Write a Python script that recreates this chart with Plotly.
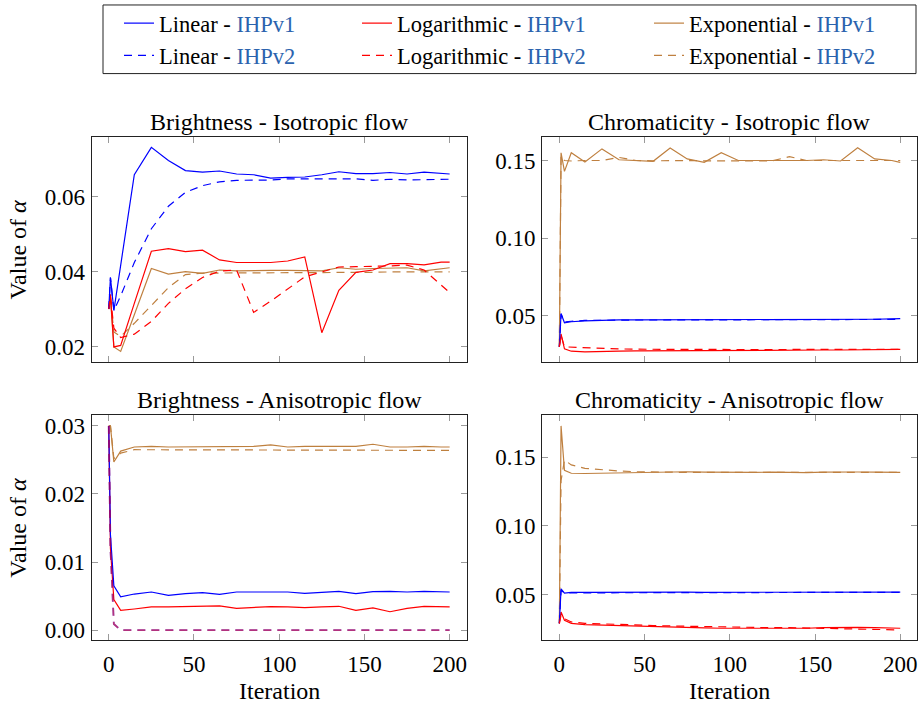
import plotly.graph_objects as go

# ---------------- data ----------------
ITER = [0, 1, 3, 7, 15, 25, 35, 45, 55, 65, 75, 85, 95, 105, 115, 125, 135, 145, 155, 165, 175, 185, 195, 200]

# Brightness - Isotropic flow
bi_lin_v1 = [0.0301, 0.0385, 0.0297, 0.0418, 0.0659, 0.0732, 0.0697, 0.0670, 0.0666, 0.0669, 0.0661, 0.0659, 0.0650, 0.0652, 0.0653, 0.0659, 0.0667, 0.0662, 0.0662, 0.0665, 0.0661, 0.0666, 0.0662, 0.0661]
bi_lin_v2 = [0.0301, 0.0385, 0.0297, 0.0336, 0.0425, 0.0515, 0.0575, 0.0612, 0.0630, 0.0640, 0.0644, 0.0645, 0.0645, 0.0648, 0.0648, 0.0648, 0.0648, 0.0648, 0.0644, 0.0647, 0.0645, 0.0646, 0.0647, 0.0647]
bi_log_v1 = [0.0301, 0.0340, 0.0200, 0.0204, 0.0316, 0.0455, 0.0462, 0.0454, 0.0458, 0.0432, 0.0425, 0.0425, 0.0425, 0.0429, 0.0440, 0.0238, 0.0351, 0.0399, 0.0405, 0.0422, 0.0422, 0.0419, 0.0426, 0.0426]
bi_log_v2 = [0.0301, 0.0336, 0.0250, 0.0225, 0.0234, 0.0268, 0.0316, 0.0355, 0.0385, 0.0402, 0.0405, 0.0292, 0.0322, 0.0355, 0.0387, 0.0400, 0.0413, 0.0414, 0.0414, 0.0416, 0.0418, 0.0405, 0.0365, 0.0345]
bi_exp_v1 = [0.0301, 0.0330, 0.0200, 0.0188, 0.0286, 0.0409, 0.0394, 0.0401, 0.0396, 0.0405, 0.0403, 0.0404, 0.0404, 0.0404, 0.0404, 0.0403, 0.0411, 0.0407, 0.0409, 0.0409, 0.0411, 0.0403, 0.0409, 0.0411]
bi_exp_v2 = [0.0301, 0.0330, 0.0240, 0.0228, 0.0263, 0.0310, 0.0358, 0.0393, 0.0397, 0.0397, 0.0397, 0.0398, 0.0398, 0.0399, 0.0399, 0.0399, 0.0399, 0.0399, 0.0399, 0.0400, 0.0400, 0.0400, 0.0400, 0.0400]

# Chromaticity - Isotropic flow
ci_lin_v1 = [0.0300, 0.0515, 0.0455, 0.0462, 0.0468, 0.0472, 0.0474, 0.0474, 0.0474, 0.0474, 0.0474, 0.0474, 0.0474, 0.0474, 0.0474, 0.0474, 0.0474, 0.0475, 0.0475, 0.0476, 0.0477, 0.0478, 0.0480, 0.0482]
ci_lin_v2 = [0.0300, 0.0510, 0.0460, 0.0465, 0.0470, 0.0472, 0.0473, 0.0473, 0.0473, 0.0473, 0.0473, 0.0473, 0.0473, 0.0473, 0.0473, 0.0473, 0.0473, 0.0473, 0.0473, 0.0474, 0.0474, 0.0475, 0.0476, 0.0477]
ci_log_v1 = [0.0300, 0.0383, 0.0287, 0.0272, 0.0268, 0.0268, 0.0272, 0.0274, 0.0275, 0.0272, 0.0274, 0.0276, 0.0277, 0.0278, 0.0278, 0.0278, 0.0279, 0.0279, 0.0280, 0.0280, 0.0280, 0.0281, 0.0282, 0.0284]
ci_log_v2 = [0.0300, 0.0375, 0.0300, 0.0298, 0.0295, 0.0290, 0.0287, 0.0285, 0.0284, 0.0283, 0.0283, 0.0283, 0.0283, 0.0283, 0.0283, 0.0283, 0.0283, 0.0283, 0.0283, 0.0283, 0.0283, 0.0283, 0.0283, 0.0284]
ci_exp_v1 = [0.0300, 0.1550, 0.1430, 0.1550, 0.1490, 0.1575, 0.1505, 0.1500, 0.1495, 0.1580, 0.1510, 0.1488, 0.1550, 0.1500, 0.1500, 0.1500, 0.1500, 0.1500, 0.1505, 0.1497, 0.1582, 0.1510, 0.1500, 0.1488]
ci_exp_v2 = [0.0300, 0.1530, 0.1500, 0.1497, 0.1500, 0.1500, 0.1520, 0.1500, 0.1498, 0.1500, 0.1500, 0.1498, 0.1498, 0.1498, 0.1500, 0.1498, 0.1525, 0.1500, 0.1500, 0.1500, 0.1500, 0.1500, 0.1500, 0.1500]

# Brightness - Anisotropic flow
ba_lin_v1 = [0.0300, 0.0140, 0.0065, 0.0049, 0.0053, 0.0056, 0.0051, 0.00536, 0.0055, 0.00526, 0.0056, 0.0056, 0.00565, 0.0056, 0.0054, 0.0056, 0.0057, 0.00536, 0.00565, 0.0057, 0.0056, 0.0057, 0.0056, 0.0056]
ba_lin_v2 = [0.0300, 0.0120, 0.0009, 0.0, 0.0, 0.0, 0.0, 0.0, 0.0, 0.0, 0.0, 0.0, 0.0, 0.0, 0.0, 0.0, 0.0, 0.0, 0.0, 0.0, 0.0, 0.0, 0.0, 0.0]
ba_log_v1 = [0.0300, 0.0120, 0.0045, 0.0029, 0.0031, 0.0034, 0.0034, 0.00346, 0.00356, 0.00356, 0.0032, 0.0033, 0.00345, 0.0034, 0.0033, 0.0034, 0.0035, 0.0029, 0.00326, 0.0027, 0.0032, 0.0035, 0.0034, 0.0034]
ba_log_v2 = [0.0300, 0.0120, 0.0009, 0.0, 0.0, 0.0, 0.0, 0.0, 0.0, 0.0, 0.0, 0.0, 0.0, 0.0, 0.0, 0.0, 0.0, 0.0, 0.0, 0.0, 0.0, 0.0, 0.0, 0.0]
ba_exp_v1 = [0.0300, 0.0300, 0.0247, 0.0263, 0.0269, 0.0270, 0.0269, 0.0269, 0.0270, 0.0270, 0.0270, 0.0270, 0.0272, 0.0269, 0.0270, 0.0270, 0.0269, 0.0270, 0.0273, 0.0269, 0.0269, 0.0270, 0.0269, 0.0269]
ba_exp_v2 = [0.0300, 0.0300, 0.0252, 0.0260, 0.0265, 0.0265, 0.0265, 0.0265, 0.0265, 0.0265, 0.0265, 0.0265, 0.0265, 0.0265, 0.0265, 0.0265, 0.0264, 0.0264, 0.0264, 0.0264, 0.0264, 0.0264, 0.0264, 0.0264]

# Chromaticity - Anisotropic flow
ca_lin_v1 = [0.0290, 0.0541, 0.0510, 0.0515, 0.0516, 0.0517, 0.0517, 0.0517, 0.0517, 0.0517, 0.0517, 0.0516, 0.0516, 0.0517, 0.0517, 0.0517, 0.0517, 0.0518, 0.0518, 0.0517, 0.0517, 0.0518, 0.0518, 0.0518]
ca_lin_v2 = [0.0290, 0.0530, 0.0512, 0.0512, 0.0514, 0.0515, 0.0516, 0.0516, 0.0516, 0.0516, 0.0516, 0.0516, 0.0516, 0.0516, 0.0516, 0.0516, 0.0516, 0.0516, 0.0516, 0.0516, 0.0516, 0.0516, 0.0516, 0.0516]
ca_log_v1 = [0.0290, 0.0372, 0.0312, 0.0290, 0.0280, 0.0276, 0.0272, 0.0268, 0.0265, 0.0263, 0.0260, 0.0257, 0.0254, 0.0253, 0.0253, 0.0252, 0.0252, 0.0254, 0.0258, 0.0260, 0.0260, 0.0258, 0.0256, 0.0254]
ca_log_v2 = [0.0290, 0.0350, 0.0324, 0.0300, 0.0290, 0.0285, 0.0281, 0.0277, 0.0274, 0.0271, 0.0268, 0.0265, 0.0262, 0.0260, 0.0259, 0.0258, 0.0258, 0.0256, 0.0254, 0.0250, 0.0248, 0.0246, 0.0244, 0.0242]
ca_exp_v1 = [0.0290, 0.1729, 0.1405, 0.1384, 0.1382, 0.1385, 0.1388, 0.1390, 0.1390, 0.1392, 0.1395, 0.1392, 0.1390, 0.1390, 0.1390, 0.1392, 0.1390, 0.1388, 0.1392, 0.1395, 0.1393, 0.1392, 0.1390, 0.1390]
ca_exp_v2 = [0.0290, 0.1330, 0.1480, 0.1445, 0.1420, 0.1408, 0.1400, 0.1395, 0.1392, 0.1390, 0.1390, 0.1390, 0.1390, 0.1390, 0.1390, 0.1390, 0.1390, 0.1390, 0.1390, 0.1390, 0.1390, 0.1390, 0.1390, 0.1390]

TITLES = ["Brightness - Isotropic flow", "Chromaticity - Isotropic flow",
          "Brightness - Anisotropic flow", "Chromaticity - Anisotropic flow"]
METHODS = ["Linear", "Logarithmic", "Exponential"]
VERSIONS = ["IHPv1", "IHPv2"]
X_TICKS = [0, 50, 100, 150, 200]

# ---------------- style ----------------
W, H = 920, 705
FONT = "Liberation Serif, Times New Roman, serif"
FS = 24
TFS = 23
LFS = 22.5
BLUE, RED, BROWN = "#0000FF", "#FF0000", "#BF8040"
VCOL = "#2B63AE"
COLORS = {"Linear": BLUE, "Logarithmic": RED, "Exponential": BROWN}
LEGEND_OF = {"Linear": "legend", "Logarithmic": "legend2", "Exponential": "legend3"}
LEGEND_X = {"legend": 119, "legend2": 357, "legend3": 649}
DASH = "8px,6px"


def fx(p):
    return p / W


def fy(p):
    return 1 - p / H


LEFT = (91.7, 466.7)
RIGHT = (542.3, 917.3)
TOP = (137.0, 363.0)
BOT = (416.7, 642.7)

panels = [
    dict(xa="x", ya="y", xd=LEFT, yd=TOP, yr=[0.0160, 0.0759], dt=0.02, xt=False, ytitle=True,
         data={("Linear", "IHPv1"): bi_lin_v1, ("Linear", "IHPv2"): bi_lin_v2,
               ("Logarithmic", "IHPv1"): bi_log_v1, ("Logarithmic", "IHPv2"): bi_log_v2,
               ("Exponential", "IHPv1"): bi_exp_v1, ("Exponential", "IHPv2"): bi_exp_v2}),
    dict(xa="x2", ya="y2", xd=RIGHT, yd=TOP, yr=[0.0203, 0.1650], dt=0.05, xt=False, ytitle=False,
         data={("Linear", "IHPv1"): ci_lin_v1, ("Linear", "IHPv2"): ci_lin_v2,
               ("Logarithmic", "IHPv1"): ci_log_v1, ("Logarithmic", "IHPv2"): ci_log_v2,
               ("Exponential", "IHPv1"): ci_exp_v1, ("Exponential", "IHPv2"): ci_exp_v2}),
    dict(xa="x3", ya="y3", xd=LEFT, yd=BOT, yr=[-0.00146, 0.03155], dt=0.01, xt=True, ytitle=True,
         data={("Linear", "IHPv1"): ba_lin_v1, ("Linear", "IHPv2"): ba_lin_v2,
               ("Logarithmic", "IHPv1"): ba_log_v1, ("Logarithmic", "IHPv2"): ba_log_v2,
               ("Exponential", "IHPv1"): ba_exp_v1, ("Exponential", "IHPv2"): ba_exp_v2}),
    dict(xa="x4", ya="y4", xd=RIGHT, yd=BOT, yr=[0.0168, 0.1806], dt=0.05, xt=True, ytitle=False,
         data={("Linear", "IHPv1"): ca_lin_v1, ("Linear", "IHPv2"): ca_lin_v2,
               ("Logarithmic", "IHPv1"): ca_log_v1, ("Logarithmic", "IHPv2"): ca_log_v2,
               ("Exponential", "IHPv1"): ca_exp_v1, ("Exponential", "IHPv2"): ca_exp_v2}),
]

fig = go.Figure()
rank = {"IHPv1": 1, "IHPv2": 2}

draw_order = [("Exponential", "IHPv2"), ("Exponential", "IHPv1"),
              ("Logarithmic", "IHPv1"), ("Linear", "IHPv1"),
              ("Linear", "IHPv2"), ("Logarithmic", "IHPv2")]

for pi, p in enumerate(panels):
    for key in draw_order:
        m, v = key
        dashed = v == "IHPv2"
        op = 1.0
        wd = 1.2
        if pi == 2 and dashed and m in ("Linear", "Logarithmic"):
            wd = 1.8
            op = 0.6 if m == "Linear" else 0.5
        fig.add_trace(go.Scatter(
            x=ITER, y=p["data"][key], mode="lines",
            xaxis=p["xa"], yaxis=p["ya"],
            line=dict(color=COLORS[m], width=wd, dash=DASH if dashed else "solid"),
            opacity=op,
            name=f"{m} - <span style='color:{VCOL}'>{v}</span>",
            legend=LEGEND_OF[m], legendrank=rank[v],
            showlegend=(pi == 0), hoverinfo="skip",
        ))

layout = dict(
    width=W, height=H, margin=dict(l=0, r=0, t=0, b=0),
    paper_bgcolor="white", plot_bgcolor="white",
    font=dict(family=FONT, size=FS, color="black"),
    showlegend=True,
)
for lg, lx in LEGEND_X.items():
    layout[lg] = dict(orientation="v", x=fx(lx), xanchor="left", y=fy(1), yanchor="top",
                      borderwidth=0, bgcolor="rgba(0,0,0,0)", font=dict(family=FONT, size=LFS),
                      tracegroupgap=0, traceorder="normal")

shapes = [dict(type="rect", xref="paper", yref="paper", x0=fx(103), x1=fx(916), y0=fy(73), y1=fy(4),
               line=dict(color="#222", width=1), fillcolor="rgba(0,0,0,0)", layer="above")]

annotations = []
for i, p in enumerate(panels):
    xn = "xaxis" + p["xa"][1:]
    yn = "yaxis" + p["ya"][1:]
    layout[xn] = dict(
        domain=[fx(p["xd"][0]), fx(p["xd"][1])], range=[-10, 210],
        anchor=p["ya"], tickvals=X_TICKS, showticklabels=p["xt"],
        ticks="inside", ticklen=6, tickwidth=1.2, tickcolor="#9a9a9a",
        showline=True, linecolor="#222", linewidth=1.2, mirror="ticks",
        showgrid=False, zeroline=False, tickfont=dict(family=FONT, size=TFS),
        ticklabelstandoff=3,
    )
    layout[yn] = dict(
        domain=[fy(p["yd"][1]), fy(p["yd"][0])], range=p["yr"],
        anchor=p["xa"], dtick=p["dt"], tick0=0, tickformat=".2f",
        ticks="inside", ticklen=6, tickwidth=1.2, tickcolor="#9a9a9a",
        showline=True, linecolor="#222", linewidth=1.2, mirror="ticks",
        showgrid=False, zeroline=False, tickfont=dict(family=FONT, size=TFS),
        ticklabelstandoff=1,
    )
    cx = (p["xd"][0] + p["xd"][1]) / 2
    annotations.append(dict(text=TITLES[i], x=fx(cx), y=fy(p["yd"][0]), xref="paper", yref="paper",
                            xanchor="center", yanchor="bottom", showarrow=False,
                            font=dict(family=FONT, size=FS)))
    if p["ytitle"]:
        cy = (p["yd"][0] + p["yd"][1]) / 2
        annotations.append(dict(text="Value of <i>α</i>", x=fx(18), y=fy(cy), xref="paper", yref="paper",
                                xanchor="center", yanchor="middle", textangle=-90, showarrow=False,
                                font=dict(family=FONT, size=FS)))
    if p["xt"]:
        annotations.append(dict(text="Iteration", x=fx(cx), y=fy(694), xref="paper", yref="paper",
                                xanchor="center", yanchor="middle", showarrow=False,
                                font=dict(family=FONT, size=FS)))

layout["annotations"] = annotations
layout["shapes"] = shapes
fig.update_layout(**layout)
fig.write_html("out.html")
